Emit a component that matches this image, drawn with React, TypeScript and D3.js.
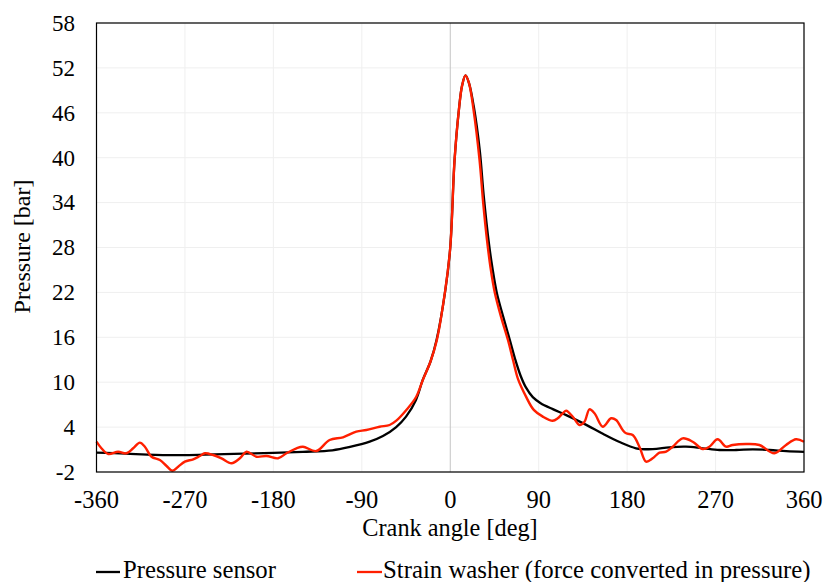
import React from "react";
import * as d3 from "d3";

const xTicks = [-360, -270, -180, -90, 0, 90, 180, 270, 360];
const yTicks = [-2, 4, 10, 16, 22, 28, 34, 40, 46, 52, 58];

const sensorAngle = [-360, -330, -300, -270, -240, -210, -180, -150, -120, -102, -82, -68.5, -55, -45, -35, -28, -20, -14, -5, 0, 4.4, 8.8, 12, 15.5, 19, 24, 30, 34, 39.4, 43, 47.3, 54, 60.5, 66, 71.5, 77, 84, 92, 104.4, 118, 138.4, 155.3, 172.3, 189, 205.9, 223, 239.9, 256.8, 274, 291, 308, 325, 342, 360];
const sensorPressure = [0.6, 0.45, 0.3, 0.25, 0.35, 0.45, 0.55, 0.7, 0.9, 1.35, 2.05, 2.8, 4.0, 5.4, 7.6, 10.3, 12.8, 15.6, 22.3, 28, 39.7, 46.4, 49.6, 51, 50, 46.8, 41, 35, 28.5, 25.2, 22.0, 18.7, 15.7, 13.1, 10.9, 9.3, 8.0, 7.2, 6.4, 5.6, 4.3, 3.1, 2.0, 1.17, 1.05, 1.3, 1.38, 1.17, 0.94, 0.94, 1.03, 0.94, 0.8, 0.7];

const washerAngle = [-360, -355, -348, -338, -329.5, -322.7, -315.9, -310.8, -304, -295.5, -288.7, -282.6, -276.9, -270.1, -261.6, -254.8, -249.7, -241.3, -232.8, -222.6, -214.1, -207.3, -197.2, -187, -175.2, -166.7, -156.5, -149.9, -136.3, -122.8, -109.2, -95.6, -85.4, -71.9, -61.7, -54.9, -44.7, -34.6, -27.9, -20, -13.7, -5.1, 0, 4.4, 8.8, 12, 15.5, 19, 23.7, 29.8, 33.5, 37.4, 41, 45.3, 52, 58.8, 64, 69, 77, 85, 94.2, 104.3, 109.4, 114.5, 118, 124.7, 131.5, 136.6, 141.7, 146.8, 155.2, 163.7, 168.8, 175.5, 179, 185.7, 192.5, 199.3, 206, 212.9, 219.7, 226.4, 236.5, 246.7, 256.9, 263.7, 272.1, 280.7, 287.4, 301, 314.6, 329.8, 341.7, 351.9, 360];
const washerPressure = [2.05, 1.17, 0.4, 0.71, 0.5, 1.17, 1.92, 1.38, 0.04, -0.4, -1.2, -1.83, -1.29, -0.62, -0.3, 0.14, 0.5, 0.27, -0.17, -0.84, -0.17, 0.71, 0.04, 0.14, -0.17, 0.5, 1.17, 1.38, 0.8, 2.28, 2.64, 3.39, 3.61, 4.05, 4.28, 4.86, 6.29, 8.06, 10.3, 12.8, 15.6, 22.3, 28, 39.7, 46.4, 49.6, 51, 50, 46.4, 39.7, 34, 29, 25.3, 22.0, 18.6, 15.6, 12.9, 10.4, 8.1, 6.3, 5.4, 4.85, 5.18, 5.84, 6.19, 5.39, 4.28, 4.72, 6.38, 5.84, 4.05, 5.18, 4.95, 3.61, 3.17, 2.94, 1.38, -0.62, -0.17, 0.58, 0.71, 1.38, 2.5, 2.05, 1.07, 1.38, 2.37, 1.38, 1.61, 1.74, 1.61, 0.5, 1.61, 2.37, 2.05];

const W = 825;
const H = 582;
const left = 96.5;
const right = 804;
const top = 23;
const bottom = 472;
const font = "Liberation Serif";

export default function App() {
  const x = d3.scaleLinear().domain([-360, 360]).range([left, right]);
  const y = d3.scaleLinear().domain([-2, 58]).range([bottom, top]);
  const line = d3
    .line<[number, number]>()
    .x((d) => x(d[0]))
    .y((d) => y(d[1]))
    .curve(d3.curveCatmullRom.alpha(0.5));
  const sensor = sensorAngle.map((a, i) => [a, sensorPressure[i]] as [number, number]);
  const washer = washerAngle.map((a, i) => [a, washerPressure[i]] as [number, number]);

  return (
    <svg width={W} height={H} style={{ position: "absolute", left: 0, top: 0, background: "#fff" }}>
      <rect x={0} y={0} width={W} height={H} fill="#fff" />
      {yTicks.map((t) => (
        <line key={"gy" + t} x1={left} x2={right} y1={y(t)} y2={y(t)} stroke="#efefef" strokeWidth={1} />
      ))}
      {xTicks.map((t) => (
        <line key={"gx" + t} x1={x(t)} x2={x(t)} y1={top} y2={bottom} stroke={t === 0 ? "#c4c4c4" : "#efefef"} strokeWidth={1} />
      ))}
      <path d={line(sensor) || ""} fill="none" stroke="#000" strokeWidth={2.3} />
      <path d={line(washer) || ""} fill="none" stroke="#ff1f00" strokeWidth={2.4} />
      <rect x={left} y={top} width={right - left} height={bottom - top} fill="none" stroke="#000" strokeWidth={1.2} />
      {yTicks.map((t) => (
        <text key={"ty" + t} x={75} y={y(t)} dy="0.34em" textAnchor="end" fontFamily={font} fontSize={23} fill="#000">
          {t}
        </text>
      ))}
      {xTicks.map((t) => (
        <text key={"tx" + t} x={x(t)} y={508} textAnchor="middle" fontFamily={font} fontSize={24.5} fill="#000">
          {t}
        </text>
      ))}
      <text x={450} y={536} textAnchor="middle" fontFamily={font} fontSize={24.3} fill="#000">
        Crank angle [deg]
      </text>
      <text transform={`translate(29.5,246.5) rotate(-90)`} textAnchor="middle" fontFamily={font} fontSize={24} fill="#000">
        Pressure [bar]
      </text>
      <line x1={96} x2={120} y1={572} y2={572} stroke="#000" strokeWidth={2.3} />
      <text x={123} y={578} fontFamily={font} fontSize={24.7} fill="#000">
        Pressure sensor
      </text>
      <line x1={357} x2={382} y1={572} y2={572} stroke="#ff1f00" strokeWidth={2.3} />
      <text x={383} y={578} fontFamily={font} fontSize={24.8} fill="#000">
        Strain washer (force converted in pressure)
      </text>
    </svg>
  );
}
